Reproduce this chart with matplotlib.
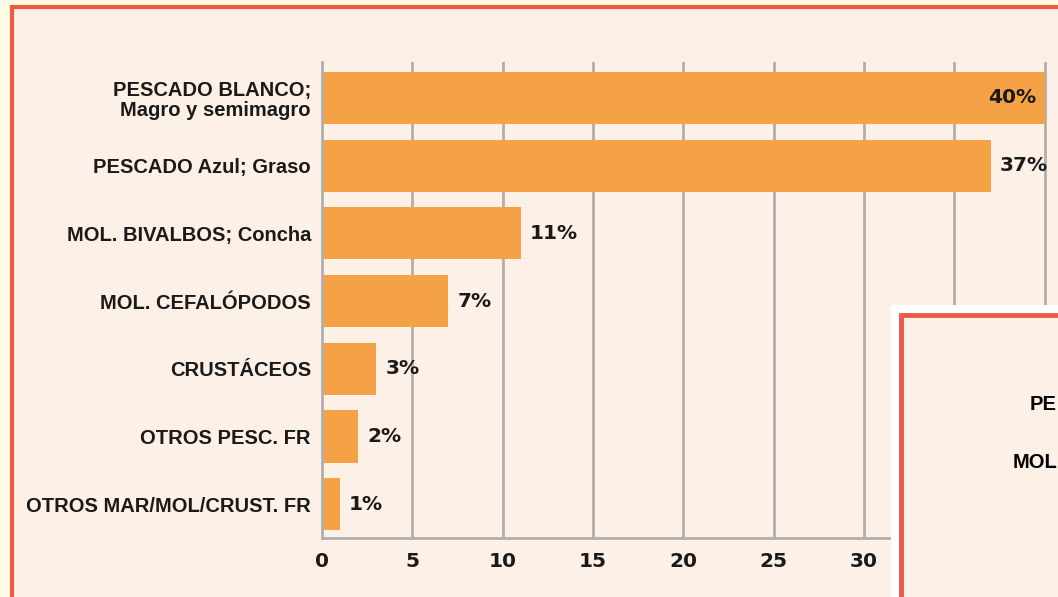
import matplotlib.pyplot as plt
from matplotlib.patches import Rectangle

categories = [
    'PESCADO BLANCO;\nMagro y semimagro',
    'PESCADO Azul; Graso',
    'MOL. BIVALBOS; Concha',
    'MOL. CEFALÓPODOS',
    'CRUSTÁCEOS',
    'OTROS PESC. FR',
    'OTROS MAR/MOL/CRUST. FR',
]
values = [40, 37, 11, 7, 3, 2, 1]
value_labels = ['40%', '37%', '11%', '7%', '3%', '2%', '1%']
x_ticks = [0, 5, 10, 15, 20, 25, 30, 35, 40]
x_tick_labels = ['0', '5', '10', '15', '20', '25', '30', '', '']

W, H = 1058, 597
bg = '#fdf0e6'
orange = '#f5a246'
red = '#ec5a48'
grey = '#b3aeab'
label_font = ['Liberation Sans', 'DejaVu Sans']

fig = plt.figure(figsize=(W / 100, H / 100), dpi=100)
fig.patch.set_facecolor('#fffbe3')


def fx(px):
    return px / W


def fy(py):
    return 1 - py / H


# main panel with red frame
fig.patches.append(Rectangle((fx(12), fy(H + 20)), 1.2, fy(7) - fy(H + 20),
                             transform=fig.transFigure, facecolor=bg,
                             edgecolor=red, lw=3, zorder=-1))

ax = fig.add_axes([fx(322), fy(538), 1 - fx(322), fy(62) - fy(538)])
ax.set_facecolor('none')
y = list(range(len(categories)))
ax.barh(y, values, height=0.77, color=orange, zorder=2)
ax.set_xlim(0, 736 / 18.07)
ax.set_ylim(6.5, -0.53)

for xv in x_ticks[1:]:
    ax.axvline(xv, color=grey, lw=2, zorder=1)
for s in ['top', 'right']:
    ax.spines[s].set_visible(False)
for s in ['left', 'bottom']:
    ax.spines[s].set_color(grey)
    ax.spines[s].set_linewidth(2)

ax.set_yticks(y)
ax.set_yticklabels(categories, family=label_font, fontweight='bold',
                   fontsize=14.5, linespacing=1.05)
ax.set_xticks(x_ticks)
ax.set_xticklabels(x_tick_labels, fontweight='bold', fontsize=14.5,
                   color='#1a1a1a')
ax.tick_params(axis='both', length=0, colors='#1a1a1a')
ax.tick_params(axis='y', pad=8)
ax.tick_params(axis='x', pad=10)

for i, (v, lab) in enumerate(zip(values, value_labels)):
    if v == max(values):
        ax.text(v - 0.45, i, lab, ha='right', va='center', fontsize=14.5,
                fontweight='bold', color='#1a1a1a', zorder=3)
    else:
        ax.text(v + 0.5, i, lab, ha='left', va='center', fontsize=14.5,
                fontweight='bold', color='#1a1a1a', zorder=3)

# overlapping second panel at bottom right
fig.patches.append(Rectangle((fx(891), fy(H + 20)), 1, fy(305) - fy(H + 20),
                             transform=fig.transFigure, facecolor='white',
                             edgecolor='none', zorder=5))
fig.patches.append(Rectangle((fx(901), fy(H + 20)), 1, fy(315) - fy(H + 20),
                             transform=fig.transFigure, facecolor=bg,
                             edgecolor=red, lw=3.5, zorder=6))
fig.text(fx(1057), fy(405), 'PE', family=label_font, fontweight='bold',
         fontsize=14.5, va='center', ha='right', zorder=7)
fig.text(fx(1057), fy(462), 'MOL', family=label_font, fontweight='bold',
         fontsize=14.5, va='center', ha='right', zorder=7)

plt.savefig('out.png', dpi=100, facecolor=fig.get_facecolor())
